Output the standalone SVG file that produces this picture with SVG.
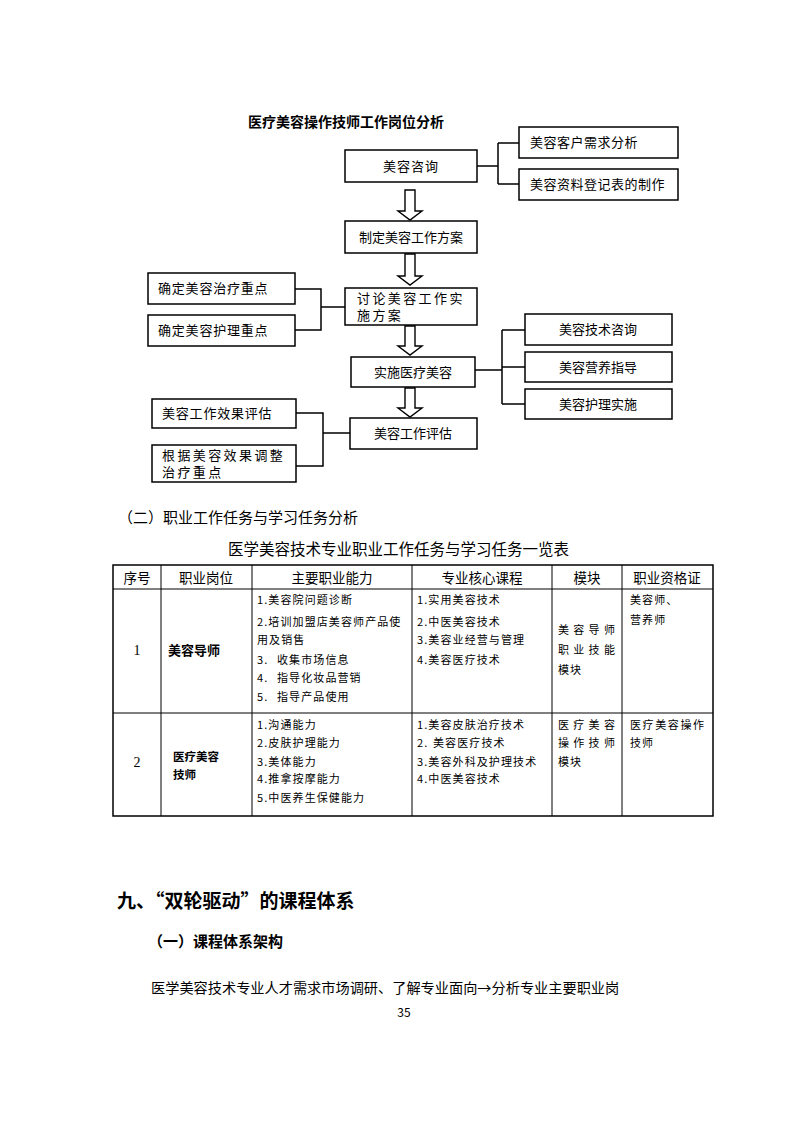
<svg xmlns="http://www.w3.org/2000/svg" width="793" height="1122" viewBox="0 0 793 1122">
<style>
text{font-family:"Noto Sans CJK SC","Liberation Serif",serif;fill:#000}
.box{fill:#fff;stroke:#000;stroke-width:1.5}
.ln{fill:none;stroke:#000;stroke-width:1.5}
.arr{fill:#fff;stroke:#000;stroke-width:1.4}
.bt{font-size:13px}
.tc{font-size:11px;fill:#222;letter-spacing:1.1px}
.th{font-size:13.5px;text-anchor:middle}
.tl{stroke:#000;stroke-width:1}
.num{font-family:"Liberation Serif",serif;font-size:14px;text-anchor:middle}
</style>
<rect width="793" height="1122" fill="#fff"/>
<text x="248" y="127" font-size="14" font-weight="bold">医疗美容操作技师工作岗位分析</text>

<g id="connectors">
<path class="ln" d="M477,166 H498 M498,143 V184 M498,143 H519 M498,184 H519"/>
<path class="ln" d="M295,289 H321 V330 H295 M321,307 H345"/>
<path class="ln" d="M475,370 H502 M502,330 V404 M502,330 H525 M502,367 H525 M502,404 H525"/>
<path class="ln" d="M296,413 H323 V466 H296 M323,433 H350"/>
<path class="arr" d="M405,190 H415 V211 H422 L410,220 L398,211 H405 Z"/>
<path class="arr" d="M405,254 H415 V276 H422 L410,285 L398,276 H405 Z"/>
<path class="arr" d="M405,326 H415 V346 H422 L410,355 L398,346 H405 Z"/>
<path class="arr" d="M405,388 H415 V408 H422 L410,417 L398,408 H405 Z"/>
</g>

<g id="n1"><rect class="box" x="345" y="150" width="132" height="32"/><text class="bt" x="411" y="171" text-anchor="middle" letter-spacing="1">美容咨询</text></g>
<g id="n1a"><rect class="box" x="519" y="127" width="159" height="31"/><text class="bt" x="530" y="147" letter-spacing="0.5">美容客户需求分析</text></g>
<g id="n1b"><rect class="box" x="519" y="169" width="159" height="31"/><text class="bt" x="530" y="189" letter-spacing="0.5">美容资料登记表的制作</text></g>
<g id="n2"><rect class="box" x="345" y="221" width="132" height="32"/><text class="bt" x="411" y="242" text-anchor="middle">制定美容工作方案</text></g>
<g id="n3"><rect class="box" x="345" y="288" width="132" height="37"/><text class="bt" x="357" y="303" letter-spacing="2.4">讨论美容工作实</text><text class="bt" x="357" y="320" letter-spacing="2.4">施方案</text></g>
<g id="n3a"><rect class="box" x="148" y="273" width="147" height="31"/><text class="bt" x="158" y="293" letter-spacing="0.8">确定美容治疗重点</text></g>
<g id="n3b"><rect class="box" x="148" y="315" width="147" height="31"/><text class="bt" x="158" y="335" letter-spacing="0.8">确定美容护理重点</text></g>
<g id="n4"><rect class="box" x="351" y="357" width="124" height="30"/><text class="bt" x="413" y="377" text-anchor="middle">实施医疗美容</text></g>
<g id="n4a"><rect class="box" x="525" y="314" width="147" height="31"/><text class="bt" x="598" y="334" text-anchor="middle">美容技术咨询</text></g>
<g id="n4b"><rect class="box" x="525" y="352" width="147" height="30"/><text class="bt" x="598" y="372" text-anchor="middle">美容营养指导</text></g>
<g id="n4c"><rect class="box" x="525" y="389" width="147" height="30"/><text class="bt" x="598" y="409" text-anchor="middle">美容护理实施</text></g>
<g id="n5"><rect class="box" x="350" y="418" width="127" height="31"/><text class="bt" x="413" y="438" text-anchor="middle">美容工作评估</text></g>
<g id="n5a"><rect class="box" x="152" y="399" width="144" height="29"/><text class="bt" x="162" y="418" letter-spacing="0.8">美容工作效果评估</text></g>
<g id="n5b"><rect class="box" x="152" y="445" width="144" height="37"/><text class="bt" x="162" y="460" letter-spacing="2.4">根据美容效果调整</text><text class="bt" x="162" y="477" letter-spacing="2.4">治疗重点</text></g>

<text x="118" y="523" font-size="15">（二）职业工作任务与学习任务分析</text>
<text x="228" y="555" font-size="15.5">医学美容技术专业职业工作任务与学习任务一览表</text>

<g id="table">
<rect x="113" y="565" width="600" height="251" fill="none" stroke="#000" stroke-width="1.5"/>
<path class="tl" d="M113,589 H713 M113,713 H713 M161,565 V816 M252,565 V816 M412,565 V816 M552,565 V816 M622,565 V816"/>
<text class="th" x="137" y="583">序号</text>
<text class="th" x="206" y="583">职业岗位</text>
<text class="th" x="332" y="583">主要职业能力</text>
<text class="th" x="482" y="583">专业核心课程</text>
<text class="th" x="587" y="583">模块</text>
<text class="th" x="667" y="583">职业资格证</text>

<text class="num" x="137" y="655">1</text>
<text x="168" y="655" font-size="13" font-weight="bold">美容导师</text>
<g class="tc">
<text x="257" y="604">1.美容院问题诊断</text>
<text x="257" y="626">2.培训加盟店美容师产品使</text>
<text x="257" y="644">用及销售</text>
<text x="257" y="664">3.<tspan x="277">收集市场信息</tspan></text>
<text x="257" y="682">4.<tspan x="277">指导化妆品营销</tspan></text>
<text x="257" y="701">5.<tspan x="277">指导产品使用</tspan></text>
<text x="417" y="604">1.实用美容技术</text>
<text x="417" y="626">2.中医美容技术</text>
<text x="417" y="644">3.美容业经营与管理</text>
<text x="417" y="664">4.美容医疗技术</text>
<text x="558" y="634" letter-spacing="4.3">美容导师</text>
<text x="558" y="654" letter-spacing="4.3">职业技能</text>
<text x="558" y="674">模块</text>
<text x="630" y="604">美容师、</text>
<text x="630" y="624">营养师</text>
</g>

<text class="num" x="137" y="767">2</text>
<text x="173" y="761" font-size="11.5" font-weight="bold">医疗美容</text>
<text x="173" y="779" font-size="11.5" font-weight="bold">技师</text>
<g class="tc">
<text x="257" y="729">1.沟通能力</text>
<text x="257" y="747">2.皮肤护理能力</text>
<text x="257" y="766">3.美体能力</text>
<text x="257" y="783">4.推拿按摩能力</text>
<text x="257" y="802">5.中医养生保健能力</text>
<text x="417" y="729">1.美容皮肤治疗技术</text>
<text x="417" y="747">2.<tspan x="433">美容医疗技术</tspan></text>
<text x="417" y="766">3.美容外科及护理技术</text>
<text x="417" y="783">4.中医美容技术</text>
<text x="558" y="729" letter-spacing="4.3">医疗美容</text>
<text x="558" y="747" letter-spacing="4.3">操作技师</text>
<text x="558" y="766">模块</text>
<text x="630" y="729" letter-spacing="1.6">医疗美容操作</text>
<text x="630" y="747">技师</text>
</g>
</g>

<text x="117" y="908" font-size="19" font-weight="bold">九、“双轮驱动”的课程体系</text>
<text x="148" y="947" font-size="15" font-weight="bold">（一）课程体系架构</text>
<text x="151" y="993" font-size="14.2">医学美容技术专业人才需求市场调研、了解专业面向→分析专业主要职业岗</text>
<text x="404" y="1017" font-family="Liberation Serif" font-size="12" text-anchor="middle">35</text>
</svg>
